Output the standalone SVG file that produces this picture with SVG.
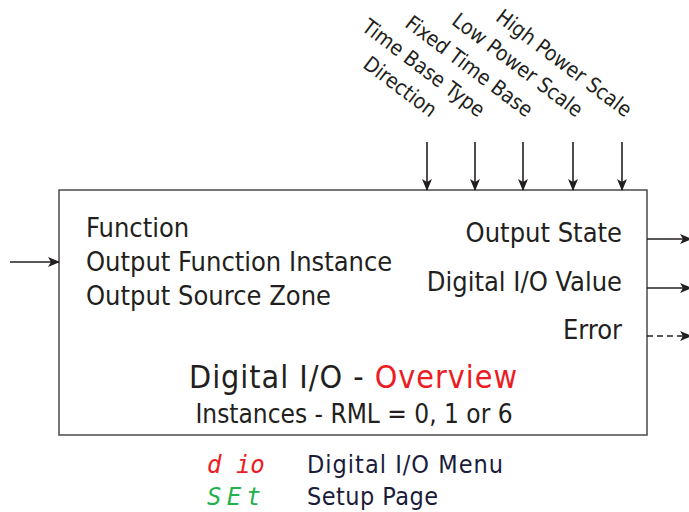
<svg xmlns="http://www.w3.org/2000/svg" width="689" height="512" viewBox="0 0 689 512">
<style>
  text { font-family: "DejaVu Sans Condensed", "DejaVu Sans", sans-serif; fill: #231f20; }
  .lbl { font-size: 27px; }
  .top { font-size: 21px; }
  .leg { font-size: 25px; fill: #1b1b3a; }
  .seg { font-family: "DejaVu Sans Mono", monospace; font-style: italic; font-size: 24px; }
  .conn { stroke: #231f20; stroke-width: 1.6; fill: none; }
</style>
<defs>
  <marker id="ah" viewBox="0 0 12 10" refX="11" refY="5" markerWidth="12" markerHeight="10" markerUnits="userSpaceOnUse" orient="auto">
    <path d="M0,0 L12,5 L0,10 L3,5 Z" fill="#231f20"/>
  </marker>
</defs>
<rect width="689" height="512" fill="#ffffff"/>

<g id="node-digital-io">
  <rect x="59" y="190" width="588" height="245" fill="#ffffff" stroke="#4a4a4a" stroke-width="1.5"/>
  <text class="lbl" x="86" y="237">Function</text>
  <text class="lbl" x="86" y="271">Output Function Instance</text>
  <text class="lbl" x="86" y="305">Output Source Zone</text>
  <text class="lbl" x="622" y="242" text-anchor="end">Output State</text>
  <text class="lbl" x="622" y="291" text-anchor="end">Digital I/O Value</text>
  <text class="lbl" x="622" y="339" text-anchor="end">Error</text>
  <text x="189" y="388" font-size="32" textLength="328">Digital I/O - <tspan style="fill:#ed1c24">Overview</tspan></text>
  <text x="354" y="423" text-anchor="middle" font-size="26">Instances - RML = 0, 1 or 6</text>
</g>

<g id="node-inputs-top">
  <text class="top" transform="translate(430,118) rotate(37)" text-anchor="end">Direction</text>
  <text class="top" transform="translate(478,118) rotate(37)" text-anchor="end">Time Base Type</text>
  <text class="top" transform="translate(526,118) rotate(37)" text-anchor="end">Fixed Time Base</text>
  <text class="top" transform="translate(576,118) rotate(37)" text-anchor="end">Low Power Scale</text>
  <text class="top" transform="translate(625,118) rotate(37)" text-anchor="end">High Power Scale</text>
</g>

<g id="node-legend">
  <text class="seg" x="207" y="473" style="fill:#ed1c24">d io</text>
  <text class="leg" x="307" y="473" textLength="196">Digital I/O Menu</text>
  <text class="seg" x="207" y="505" textLength="54" style="fill:#22b14c">SEt</text>
  <text class="leg" x="307" y="505" textLength="131">Setup Page</text>
</g>

<g id="connectors">
  <line class="conn" x1="10" y1="262" x2="59" y2="262" marker-end="url(#ah)"/>
  <line class="conn" x1="427" y1="142" x2="427" y2="190" marker-end="url(#ah)"/>
  <line class="conn" x1="475" y1="142" x2="475" y2="190" marker-end="url(#ah)"/>
  <line class="conn" x1="523" y1="142" x2="523" y2="190" marker-end="url(#ah)"/>
  <line class="conn" x1="573" y1="142" x2="573" y2="190" marker-end="url(#ah)"/>
  <line class="conn" x1="622" y1="142" x2="622" y2="190" marker-end="url(#ah)"/>
  <line class="conn" x1="647" y1="239" x2="691" y2="239" marker-end="url(#ah)"/>
  <line class="conn" x1="647" y1="288" x2="691" y2="288" marker-end="url(#ah)"/>
  <line class="conn" x1="647" y1="336" x2="691" y2="336" stroke-dasharray="6,4" marker-end="url(#ah)"/>
</g>
</svg>
